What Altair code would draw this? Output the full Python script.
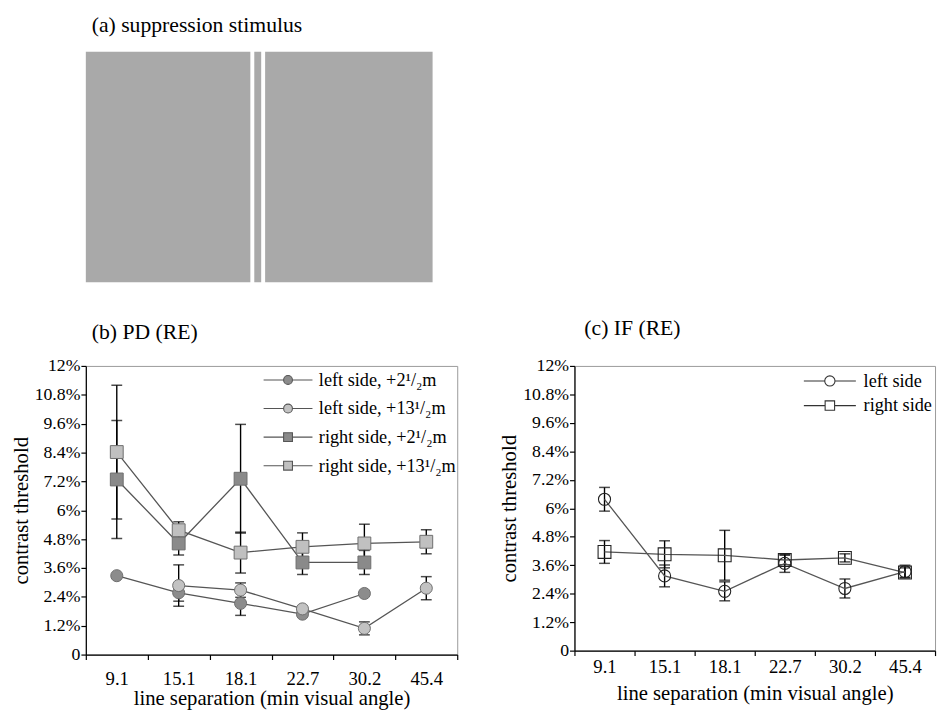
import altair as alt
import pandas as pd

SERIF = "Liberation Serif"

# ---------------- data ----------------
SEPARATIONS = ["9.1", "15.1", "18.1", "22.7", "30.2", "45.4"]
Y_TICKS = [0, 1.2, 2.4, 3.6, 4.8, 6, 7.2, 8.4, 9.6, 10.8, 12]

# panel (b) PD (RE): contrast threshold (%) and error (+/-)
PD_SERIES = ["left side, +2\u00b9/\u2082m", "left side, +13\u00b9/\u2082m",
             "right side, +2\u00b9/\u2082m", "right side, +13\u00b9/\u2082m"]
pd_left_2 = [3.28, 2.57, 2.13, 1.68, 2.54, None]
pd_left_2_err = [None, 0.35, 0.50, None, None, None]
pd_left_13 = [None, 2.87, 2.68, 1.90, 1.09, 2.76]
pd_left_13_err = [None, 0.86, 0.30, None, 0.27, 0.48]
pd_right_2 = [7.28, 4.62, 7.31, 3.83, 3.83, None]
pd_right_2_err = [2.45, 0.48, 2.26, 0.50, 0.50, None]
pd_right_13 = [8.42, 5.17, 4.24, 4.48, 4.62, 4.69]
pd_right_13_err = [2.78, 0.35, 0.85, 0.58, 0.80, 0.50]
PD_MARKERS = ["circle", "circle", "square", "square"]
PD_FILLS = ["#8c8c8c", "#c2c2c2", "#8a8a8a", "#c0c0c0"]

# panel (c) IF (RE)
IF_SERIES = ["left side", "right side"]
if_left = [6.38, 3.15, 2.50, 3.68, 2.62, 3.33]
if_left_err = [0.50, 0.46, 0.40, 0.38, 0.40, 0.27]
if_right = [4.16, 4.06, 4.02, 3.82, 3.91, 3.29]
if_right_err = [0.48, 0.57, 1.05, 0.20, 0.17, 0.20]
IF_MARKERS = ["circle", "square"]
IF_FILLS = [None, None]

# panel (a) stimulus: gray patches (stimulus units, left/right edges)
stim_patch_left = [0, 171, 182]
stim_patch_right = [167, 178, 352]
STIM_WIDTH = 352

# legend symbols: line segment with marker in the middle (custom symbol paths)
def line_circle(half, r):
    return (f"M-{half},0L-{r},0M{r},0L{half},0"
            f"M-{r},0A{r},{r},0,1,1,{r},0A{r},{r},0,1,1,-{r},0Z")

def line_square(half, r):
    return (f"M-{half},0L-{r},0M{r},0L{half},0"
            f"M-{r},-{r}L{r},-{r}L{r},{r}L-{r},{r}Z")

PD_LEGEND_PATHS = [line_circle(3.1, 0.56), line_circle(3.1, 0.56),
                   line_square(3.1, 0.56), line_square(3.1, 0.56)]
IF_LEGEND_PATHS = [line_circle(3.3, 0.65), line_square(3.3, 0.6)]


def long_table(series, values, errs, markers):
    rows = []
    for s, vals, es, m in zip(series, values, errs, markers):
        for i, (sep, v, e) in enumerate(zip(SEPARATIONS, vals, es)):
            if v is None:
                continue
            rows.append({"series": s, "sep": sep, "idx": i, "value": v,
                         "err": e, "marker": m})
    return pd.DataFrame(rows)


pd_df = long_table(PD_SERIES,
                   [pd_left_2, pd_left_13, pd_right_2, pd_right_13],
                   [pd_left_2_err, pd_left_13_err, pd_right_2_err, pd_right_13_err],
                   PD_MARKERS)
if_df = long_table(IF_SERIES, [if_left, if_right], [if_left_err, if_right_err],
                   IF_MARKERS)

# ---------------- encodings ----------------
def x_enc(label_pad, title_pad):
    return alt.X("sep:N", sort=SEPARATIONS,
                 scale=alt.Scale(type="band", domain=SEPARATIONS,
                                 paddingInner=0, paddingOuter=0),
                 axis=alt.Axis(labelAngle=0, tickBand="extent", tickSize=5,
                               labelPadding=label_pad, titlePadding=title_pad,
                               labelFont=SERIF, titleFont=SERIF,
                               titleFontWeight="normal",
                               labelFontSize=19, titleFontSize=21),
                 title="line separation (min visual angle)")


Y_LABEL_EXPR = ("datum.value == 0 ? '0' : "
                "replace(format(datum.value, '.1f'), '.0', '') + '%'")


def y_enc(field):
    return alt.Y(f"{field}:Q",
                 scale=alt.Scale(domain=[0, 12], nice=False, zero=True),
                 axis=alt.Axis(values=Y_TICKS, labelExpr=Y_LABEL_EXPR,
                               tickSize=5, labelPadding=1, titlePadding=3,
                               labelFont=SERIF, titleFont=SERIF,
                               titleFontWeight="normal",
                               labelFontSize=18, titleFontSize=21),
                 title="contrast threshold")


def panel(df, x, legend_layer, series, markers, fills, marker_props):
    base = alt.Chart(df).transform_calculate(
        lo="datum.value - datum.err", hi="datum.value + datum.err")
    errs = base.transform_filter("isValid(datum.err)")
    rule = errs.mark_rule(color="black", strokeWidth=1.4).encode(
        x=x, y=y_enc("lo"), y2="hi:Q")
    cap_lo = errs.mark_tick(orient="horizontal", size=11, thickness=1.5,
                            color="black").encode(x=x, y=y_enc("lo"))
    cap_hi = errs.mark_tick(orient="horizontal", size=11, thickness=1.5,
                            color="black").encode(x=x, y=y_enc("hi"))
    line = base.mark_line(color="#555555", strokeWidth=1.3).encode(
        x=x, y=y_enc("value"), detail="series:N", order="idx:Q")
    layers = [rule, cap_lo, cap_hi, line]
    for s, m, f in zip(series, markers, fills):
        props = dict(marker_props)
        if f is not None:
            props["fill"] = f
        size = 150 if m == "circle" else 170
        pts = base.transform_filter(alt.datum.series == s).mark_point(
            shape=m, size=size, opacity=1, **props).encode(
            x=x, y=y_enc("value"))
        layers.append(pts)
    layers.append(legend_layer)
    return alt.layer(*layers)


def title(text, dx, offset, size=22):
    return alt.Title(text, anchor="start", frame="group", dx=dx,
                     offset=offset, font=SERIF, fontSize=size,
                     fontWeight="normal", color="black")


# ---------------- panel (b) ----------------
legend_b = alt.Legend(orient="none", legendX=196, legendY=5, title=None,
                      symbolSize=256, labelOffset=22, rowPadding=10,
                      padding=0, labelFont=SERIF, labelFontSize=18.5,
                      labelColor="black", labelLimit=400,
                      symbolStrokeColor="#555555", symbolStrokeWidth=1.1)
leg_layer_b = alt.Chart(pd.DataFrame({"series": PD_SERIES})).transform_filter(
    "false").mark_point(filled=True, stroke="#555555", strokeWidth=1.1,
                        opacity=1).encode(
    shape=alt.Shape("series:N", scale=alt.Scale(domain=PD_SERIES,
                                                range=PD_LEGEND_PATHS),
                    legend=legend_b),
    color=alt.Color("series:N", scale=alt.Scale(domain=PD_SERIES,
                                                range=PD_FILLS),
                    legend=legend_b))

panel_b = panel(pd_df, x_enc(10, 0), leg_layer_b, PD_SERIES, PD_MARKERS,
                PD_FILLS,
                {"filled": True, "stroke": "#6e6e6e", "strokeWidth": 1}
                ).properties(width=377, height=293,
                             title=title("(b) PD (RE)", 6, 13))

# ---------------- panel (c) ----------------
legend_c = alt.Legend(orient="none", legendX=250, legendY=6, title=None,
                      symbolSize=256, labelOffset=25, rowPadding=6,
                      padding=0, labelFont=SERIF, labelFontSize=18.5,
                      labelColor="black", labelLimit=400,
                      symbolStrokeColor="#333333", symbolStrokeWidth=1.1)
leg_layer_c = alt.Chart(pd.DataFrame({"series": IF_SERIES})).transform_filter(
    "false").mark_point(filled=False, color="#333333", strokeWidth=1.1,
                        opacity=1).encode(
    shape=alt.Shape("series:N", scale=alt.Scale(domain=IF_SERIES,
                                                range=IF_LEGEND_PATHS),
                    legend=legend_c))

panel_c = panel(if_df, x_enc(2, 7), leg_layer_c, IF_SERIES, IF_MARKERS,
                IF_FILLS,
                {"filled": False, "color": "#222222", "strokeWidth": 1.1}
                ).properties(width=366, height=289,
                             title=title("(c) IF (RE)", 10, 17))

# ---------------- panel (a) ----------------
stim_df = pd.DataFrame({"x0": stim_patch_left, "x1": stim_patch_right,
                        "y0": [0] * 3, "y1": [1] * 3})
panel_a = alt.Chart(stim_df).mark_rect(color="#a9a9a9").encode(
    x=alt.X("x0:Q", scale=alt.Scale(domain=[0, STIM_WIDTH], nice=False),
            axis=None),
    x2="x1:Q",
    y=alt.Y("y0:Q", scale=alt.Scale(domain=[0, 1], nice=False), axis=None),
    y2="y1:Q",
).properties(
    width=STIM_WIDTH, height=234,
    view=alt.ViewBackground(stroke="transparent"),
    title=title("(a) suppression stimulus", 6, 15, size=22))

INDEP = dict(shape="independent", color="independent")

row = alt.hconcat(panel_b, panel_c, spacing=119, bounds="flush"
                  ).resolve_scale(**INDEP).resolve_legend(**INDEP)
chart = alt.vconcat(panel_a, row, spacing=85, bounds="flush"
                    ).resolve_scale(**INDEP).resolve_legend(**INDEP
).properties(
    padding={"left": 2, "top": 0, "right": 0, "bottom": 0}
).configure_view(stroke="#9a9a9a", strokeWidth=1).configure_axis(
    grid=False, domainColor="black", tickColor="black", labelColor="black",
    titleColor="black", labelFont=SERIF, titleFont=SERIF,
    titleFontWeight="normal", domainWidth=1.2, tickWidth=1.2
).configure_title(
    font=SERIF, fontSize=21, fontWeight="normal", color="black"
)

chart.save("out.html", embed_options={"renderer": "svg", "actions": False})
